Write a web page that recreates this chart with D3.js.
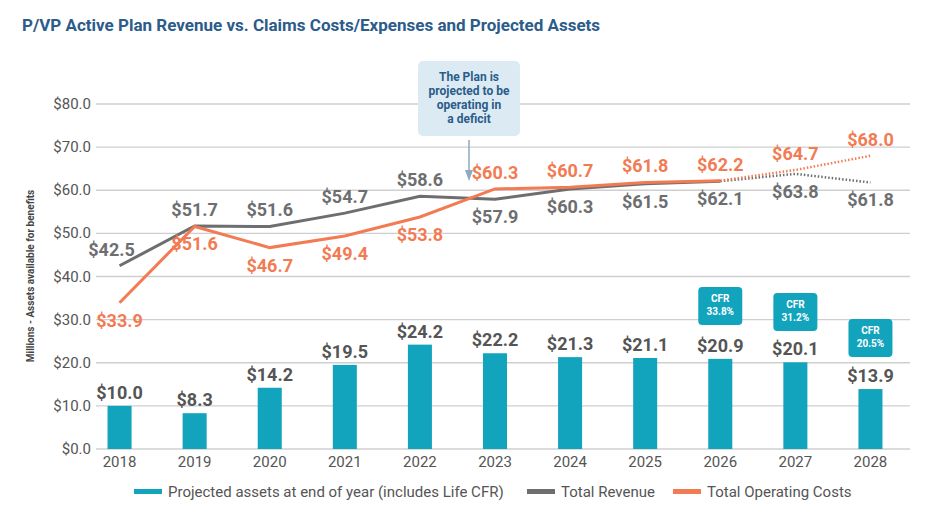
<!DOCTYPE html>
<html><head><meta charset="utf-8">
<script src="https://cdn.jsdelivr.net/npm/d3@7"></script>
<style>
body{margin:0;background:#fff;font-family:"Liberation Sans Narrow","Roboto",sans-serif;}
</style></head><body>
<svg id="chart" width="936" height="519"></svg>
<script>
var years = ["2018","2019","2020","2021","2022","2023","2024","2025","2026","2027","2028"];
var assets = [10.0, 8.3, 14.2, 19.5, 24.2, 22.2, 21.3, 21.1, 20.9, 20.1, 13.9];
var revenue = [42.5, 51.7, 51.6, 54.7, 58.6, 57.9, 60.3, 61.5, 62.1, 63.8, 61.8];
var costs = [33.9, 51.6, 46.7, 49.4, 53.8, 60.3, 60.7, 61.8, 62.2, 64.7, 68.0];
var cfr = [{year:"2026", text:"33.8%"}, {year:"2027", text:"31.2%"}, {year:"2028", text:"20.5%"}];
var yTicks = [0, 10, 20, 30, 40, 50, 60, 70, 80];

var teal = "#12a3bd", grey = "#6d6e70", orange = "#f37b53";
var svg = d3.select("#chart");

var x = d3.scaleBand().domain(years).range([82, 908]).paddingInner(0.68).paddingOuter(0.34);
var y = d3.scaleLinear().domain([0, 80]).range([449, 104]);
var cx = function(yr){ return x(yr) + x.bandwidth() / 2; };

svg.append("text").attr("x", 22).attr("y", 31)
  .attr("fill", "#2b5c8a").attr("font-size", 17).attr("font-weight", "bold")
  .text("P/VP Active Plan Revenue vs. Claims Costs/Expenses and Projected Assets");

// grid
svg.append("g").selectAll("line").data(yTicks).enter().append("line")
  .attr("x1", 96).attr("x2", 910)
  .attr("y1", d => y(d)).attr("y2", d => y(d))
  .attr("stroke", "#cfcfcf").attr("stroke-width", 1.3);

svg.append("g").selectAll("text").data(yTicks).enter().append("text")
  .attr("x", 91).attr("y", d => y(d) + 5).attr("text-anchor", "end")
  .attr("fill", "#555").attr("font-size", 15)
  .text(d => "$" + d.toFixed(1));

svg.append("text").attr("transform", "translate(34,276) rotate(-90)")
  .attr("text-anchor", "middle").attr("font-size", 10).attr("font-weight", "bold")
  .attr("fill", "#444").text("Millions - Assets available for benefits");

svg.append("g").selectAll("text").data(years).enter().append("text")
  .attr("x", d => cx(d)).attr("y", 467).attr("text-anchor", "middle")
  .attr("fill", "#555").attr("font-size", 15).text(d => d);

// bars
svg.append("g").selectAll("rect").data(assets).enter().append("rect")
  .attr("x", (d, i) => x(years[i])).attr("width", x.bandwidth())
  .attr("y", d => y(d)).attr("height", d => y(0) - y(d)).attr("fill", teal);

svg.append("g").selectAll("text").data(assets).enter().append("text")
  .attr("x", (d, i) => cx(years[i])).attr("y", d => y(d) - 7)
  .attr("text-anchor", "middle").attr("font-size", 18).attr("font-weight", "bold")
  .attr("fill", "#555").text(d => "$" + d.toFixed(1));

// lines
var line = d3.line().x(d => cx(d.yr)).y(d => y(d.v));
function drawSeries(vals, color) {
  var pts = vals.map((v, i) => ({yr: years[i], v: v}));
  svg.append("path").attr("d", line(pts.slice(0, 9))).attr("fill", "none")
    .attr("stroke", color).attr("stroke-width", 3);
  svg.append("path").attr("d", line(pts.slice(8))).attr("fill", "none")
    .attr("stroke", color).attr("stroke-width", 2.5).attr("stroke-dasharray", "1.5,2");
}
drawSeries(revenue, grey);
drawSeries(costs, orange);

var revBelow = [false,false,false,false,false,true,true,true,true,true,true];
svg.append("g").selectAll("text").data(revenue).enter().append("text")
  .attr("x", (d, i) => cx(years[i]) + (i === 0 ? -8 : 0))
  .attr("y", (d, i) => revBelow[i] ? y(d) + 24 : y(d) - 10)
  .attr("text-anchor", "middle").attr("font-size", 18).attr("font-weight", "bold")
  .attr("fill", grey).text(d => "$" + d.toFixed(1));

var costBelow = [true,true,true,true,true,false,false,false,false,false,false];
svg.append("g").selectAll("text").data(costs).enter().append("text")
  .attr("x", (d, i) => cx(years[i]))
  .attr("y", (d, i) => costBelow[i] ? y(d) + 24 : y(d) - 10)
  .attr("text-anchor", "middle").attr("font-size", 18).attr("font-weight", "bold")
  .attr("fill", orange).text(d => "$" + d.toFixed(1));

// annotation
var ax = 469;
svg.append("rect").attr("x", ax - 51).attr("y", 61).attr("width", 102).attr("height", 75)
  .attr("rx", 5).attr("fill", "#dcebf3");
["The Plan is", "projected to be", "operating in", "a deficit"].forEach(function(t, i) {
  svg.append("text").attr("x", ax).attr("y", 81 + i * 14).attr("text-anchor", "middle")
    .attr("font-size", 12).attr("font-weight", "bold").attr("fill", "#2b5c8a").text(t);
});
svg.append("line").attr("x1", ax).attr("x2", ax).attr("y1", 140).attr("y2", 176)
  .attr("stroke", "#8fa9c2").attr("stroke-width", 1.5);
svg.append("path").attr("d", "M" + (ax - 4) + ",170 L" + (ax + 4) + ",170 L" + ax + ",181 Z").attr("fill", "#8fa9c2");

// CFR boxes
var cfrTop = {"2026": 287, "2027": 293, "2028": 319};
cfr.forEach(function(c) {
  var bx = cx(c.year), by = cfrTop[c.year];
  svg.append("rect").attr("x", bx - 22).attr("y", by).attr("width", 44).attr("height", 38)
    .attr("rx", 4).attr("fill", teal);
  svg.append("text").attr("x", bx).attr("y", by + 15).attr("text-anchor", "middle")
    .attr("font-size", 10).attr("font-weight", "bold").attr("fill", "#fff").text("CFR");
  svg.append("text").attr("x", bx).attr("y", by + 28).attr("text-anchor", "middle")
    .attr("font-size", 10).attr("font-weight", "bold").attr("fill", "#fff").text(c.text);
});

// legend
var legend = [
  {label: "Projected assets at end of year (includes Life CFR)", color: teal, x: 134},
  {label: "Total Revenue", color: grey, x: 527},
  {label: "Total Operating Costs", color: orange, x: 673}
];
legend.forEach(function(l) {
  svg.append("rect").attr("x", l.x).attr("y", 489).attr("width", 28).attr("height", 5).attr("fill", l.color);
  svg.append("text").attr("x", l.x + 34).attr("y", 497).attr("font-size", 15)
    .attr("fill", "#555").text(l.label);
});
</script>
</body></html>
